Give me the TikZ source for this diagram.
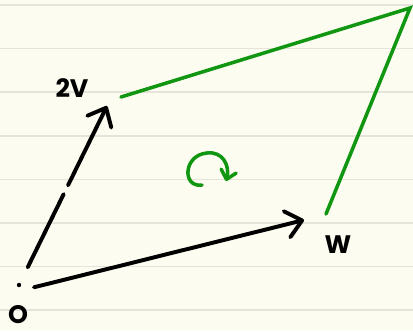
\documentclass[tikz,border=0pt]{standalone}
\usepackage{fontspec}
\setmainfont{Poppins}
\usetikzlibrary{arrows.meta}
\definecolor{paper}{RGB}{253,252,240}
\definecolor{rule}{RGB}{230,228,218}
\definecolor{pengreen}{RGB}{16,150,16}

\begin{document}
\begin{tikzpicture}[x=0.025cm, y=-0.025cm,
  ink/.style={line width=2.8pt, line cap=round, line join=round},
  vec/.style={ink, -{Straight Barb[length=11pt, width=19pt, round]}},
  side/.style={line width=2.5pt, line cap=round, draw=pengreen},
  lbl/.style={font=\fontsize{18}{20}\selectfont\bfseries, inner sep=0pt}]
  % lined paper
  \fill[paper] (0,0) rectangle (413,331);
  \useasboundingbox (0,0) rectangle (413,331);
  \foreach \i in {0,...,7}
    \draw[rule, line width=1.2pt] (0,5+43.6*\i) -- (413,5+43.6*\i);
  % points
  \coordinate (o) at (19,285);
  \coordinate (v) at (107,106);
  \coordinate (w) at (304,220);
  \coordinate (vw) at (410,8);
  \coordinate (gv) at (121,97);
  \coordinate (gw) at (326,214);
  \fill (o) circle (2.2);
  % vectors
  \draw[vec, shorten <=14pt, dash pattern=on 58pt off 7pt on 300pt] (o) -- (v);
  \draw[vec, shorten <=11pt] (19,291) -- (w);
  % green sides of the parallelogram
  \draw[side] (gv) -- (vw) -- (gw);
  % orientation
  \draw[side, line join=round, -{Straight Barb[length=6pt, width=11pt, round]}]
    (202,185) .. controls (182,188) and (183,155) .. (207,153)
    .. controls (223,151) and (230,166) .. (226,181);
  % labels
  \node[lbl] (lv) at (72,88) {2V};
  \node[lbl] (lw) at (338,245) {W};
  \node[lbl] (lo) at (18,315) {O};
\end{tikzpicture}
\end{document}
